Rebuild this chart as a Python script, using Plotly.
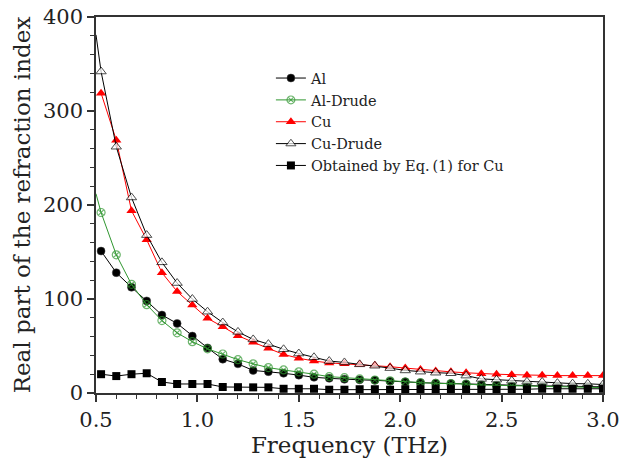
import plotly.graph_objects as go

# Frequencies (THz) of marked data points
freq = [0.525, 0.6, 0.675, 0.75, 0.825, 0.9, 0.975, 1.05, 1.125, 1.2, 1.275, 1.35,
        1.425, 1.5, 1.575, 1.65, 1.725, 1.8, 1.875, 1.95, 2.025, 2.1, 2.175, 2.25,
        2.325, 2.4, 2.475, 2.55, 2.625, 2.7, 2.775, 2.85, 2.925, 3.0]
# Drude curves start at 0.5 THz
freq_drude = [0.5] + freq

al = [151, 128, 112.5, 98, 83, 74, 60.6, 48, 36, 31, 24, 22.7, 21, 19, 16.7, 15.6, 14.6,
      14, 13.5, 12.5, 12, 11, 10.5, 10, 9.5, 9, 8.5, 8, 8, 7.5, 7.5, 7, 7, 6.5]
al_drude = [212, 192, 147, 115.6, 94, 77, 64, 54.6, 47, 41.5, 35.5, 31, 27, 24.5, 22.5, 20,
            17.4, 16.3, 15, 13.8, 13, 11.7, 11, 10.3, 10, 9.6, 8.5, 8.2, 7.8, 7.4, 7, 6.6,
            6.3, 6, 5.7]
cu = [319, 269, 194, 163, 128, 108, 93.6, 79.4, 70.5, 61, 54, 47.5, 41, 37, 34, 32, 31,
      30.5, 29.5, 28, 26.5, 25, 23.5, 22.5, 21.5, 20.5, 20, 19.5, 19, 19, 18.5, 18.5, 18.5, 18.5]
cu_drude = [381, 342, 262, 208, 168, 139, 117, 100, 86.5, 75, 65, 57, 52, 46.5, 42, 38, 34,
            32.5, 30.5, 29, 26.5, 24, 22.7, 21.6, 21, 18.5, 15, 14.2, 13, 12, 11.8, 10.5,
            10, 9.8, 9]
eq1_cu = [20, 18, 20, 21, 11.7, 9.6, 9.6, 9.6, 6.4, 6.2, 6, 6, 4.5, 4.5, 4.5, 3.5, 3.5,
          4, 4, 3.5, 4, 4, 4, 4, 3.5, 3.5, 3.5, 3.5, 4, 4.5, 4.5, 4.5, 4.5, 4.5]

names = ["Al", "Al-Drude", "Cu", "Cu-Drude", "Obtained by Eq.\u2009(1) for Cu"]

GREEN = "#2f962f"
fig = go.Figure()

fig.add_trace(go.Scatter(
    x=freq, y=al, name=names[0], mode="lines+markers",
    line=dict(color="black", width=1),
    marker=dict(symbol="circle", size=8, color="black", line=dict(color="#444", width=0.5))))

fig.add_trace(go.Scatter(
    x=freq_drude, y=al_drude, name=names[1], mode="lines+markers",
    line=dict(color=GREEN, width=1),
    marker=dict(symbol="circle-x-open", size=[0] + [8] * len(freq), color=GREEN,
                line=dict(width=1.2, color=GREEN))))

fig.add_trace(go.Scatter(
    x=freq, y=cu, name=names[2], mode="lines+markers",
    line=dict(color="#ff0000", width=1),
    marker=dict(symbol="triangle-up", size=9, color="#ff0000", line=dict(width=0))))

fig.add_trace(go.Scatter(
    x=freq_drude, y=cu_drude, name=names[3], mode="lines+markers",
    line=dict(color="black", width=1),
    marker=dict(symbol="triangle-up", size=[0] + [9] * len(freq), color="white",
                line=dict(color="black", width=1))))

fig.add_trace(go.Scatter(
    x=freq, y=eq1_cu, name=names[4], mode="lines+markers",
    line=dict(color="black", width=1),
    marker=dict(symbol="square", size=8, color="black")))

AX = "#333333"
fig.update_layout(
    width=620, height=463,
    margin=dict(l=96, r=17, t=17, b=70, autoexpand=False),
    paper_bgcolor="white", plot_bgcolor="white",
    font=dict(family="DejaVu Serif", color="#222"),
    showlegend=True,
    legend=dict(x=0.345, y=0.88, xanchor="left", yanchor="top",
                bgcolor="rgba(0,0,0,0)", font=dict(size=14.5, family="DejaVu Serif", color="#222"),
                itemwidth=30, tracegroupgap=0),
    xaxis=dict(range=[0.5, 3.0], tickvals=[0.5, 1.0, 1.5, 2.0, 2.5, 3.0],
               ticktext=["0.5", "1.0", "1.5", "2.0", "2.5", "3.0"], automargin=False,
               ticks="outside", ticklen=7, tickwidth=1.5, tickcolor=AX,
               minor=dict(dtick=0.1, tick0=0.5, ticks="outside", ticklen=4, tickwidth=1.2, tickcolor=AX),
               showline=True, linecolor=AX, linewidth=1.5, mirror=True,
               showgrid=False, zeroline=False,
               tickfont=dict(size=21), title=dict(text="Frequency (THz)", font=dict(size=23), standoff=2)),
    yaxis=dict(range=[0, 400], tickvals=[0, 100, 200, 300, 400], automargin=False,
               ticks="outside", ticklen=7, tickwidth=1.5, tickcolor=AX,
               minor=dict(dtick=20, tick0=0, ticks="outside", ticklen=4, tickwidth=1.2, tickcolor=AX),
               showline=True, linecolor=AX, linewidth=1.5, mirror=True,
               showgrid=False, zeroline=False,
               tickfont=dict(size=21),
               title=dict(text="Real part of the refraction index", font=dict(size=23), standoff=6)),
)

fig.write_html("out.html")
